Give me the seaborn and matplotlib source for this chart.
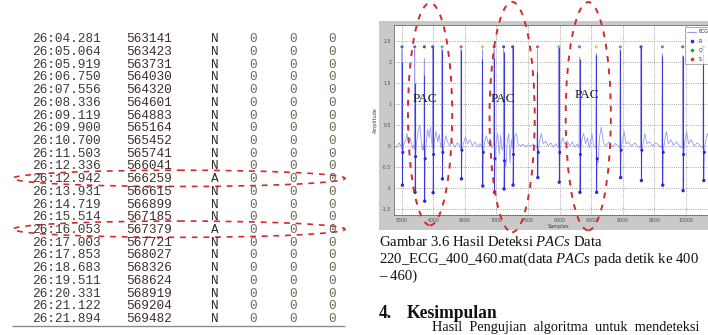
import matplotlib
matplotlib.use("Agg")
import numpy as np
import pandas as pd
import matplotlib.pyplot as plt
import seaborn as sns
from matplotlib.patches import Ellipse, Rectangle
from matplotlib.lines import Line2D

# ---------------- data: annotation table (left) ----------------
times = ["26:04.281", "26:05.064", "26:05.919", "26:06.750", "26:07.556", "26:08.336",
         "26:09.119", "26:09.900", "26:10.700", "26:11.503", "26:12.336", "26:12.942",
         "26:13.931", "26:14.719", "26:15.514", "26:16.053", "26:17.003", "26:17.853",
         "26:18.683", "26:19.511", "26:20.331", "26:21.122", "26:21.894"]
sample_no = [563141, 563423, 563731, 564030, 564320, 564601, 564883, 565164, 565452,
             565741, 566041, 566259, 566615, 566899, 567185, 567379, 567721, 568027,
             568326, 568624, 568919, 569204, 569482]
beat_type = ["N", "N", "N", "N", "N", "N", "N", "N", "N", "N", "N", "A",
             "N", "N", "N", "A", "N", "N", "N", "N", "N", "N", "N"]
sub_col = [0, 0, 0, 0, 0, 0, 0, 0, 0, 0, 0, 0, 0, 0, 0, 0, 0, 0, 0, 0, 0, 0, 0]
chan_col = [0, 0, 0, 0, 0, 0, 0, 0, 0, 0, 0, 0, 0, 0, 0, 0, 0, 0, 0, 0, 0, 0, 0]
num_col = [0, 0, 0, 0, 0, 0, 0, 0, 0, 0, 0, 0, 0, 0, 0, 0, 0, 0, 0, 0, 0, 0, 0]

# ---------------- data: ECG trace (right) ----------------
ecg_sample = [5380, 5420, 5460, 5485, 5497, 5505, 5511, 5518, 5530, 5560, 5585, 5610, 5640, 5670, 5690,
              5699, 5706, 5712, 5720, 5735, 5760, 5785, 5805, 5825, 5845,
              5852, 5858, 5864, 5872, 5890, 5910, 5935, 5955, 5975, 5985,
              5991, 5997, 6005, 6020, 6045, 6070, 6095, 6115, 6132,
              6139, 6145, 6152, 6170, 6200, 6225, 6260, 6300, 6340, 6380, 6420, 6433,
              6440, 6446, 6453, 6475, 6510, 6545, 6580, 6620, 6660, 6700, 6740, 6770,
              6778, 6784, 6792, 6810, 6840, 6870, 6900, 6930, 6955,
              6963, 6969, 6977, 6995, 7020, 7045, 7065, 7090, 7107,
              7114, 7120, 7128, 7150, 7170, 7195, 7215, 7235, 7250,
              7256, 7262, 7270, 7290, 7315, 7340, 7380, 7420, 7460, 7500, 7540, 7580, 7620, 7642,
              7649, 7655, 7662, 7680, 7710, 7740, 7780, 7820, 7860, 7900, 7940, 7980,
              7988, 7994, 8002, 8020, 8050, 8080, 8120, 8160, 8200, 8240, 8280, 8308,
              8315, 8321, 8329, 8350, 8380, 8410, 8440, 8470, 8510, 8540, 8572,
              8580, 8586, 8594, 8610, 8630, 8660, 8690, 8730, 8780, 8830, 8880, 8930, 8953,
              8960, 8966, 8973, 8990, 9020, 9050, 9090, 9140, 9190, 9240, 9280,
              9288, 9294, 9301, 9320, 9350, 9380, 9420, 9470, 9520, 9570, 9618,
              9626, 9632, 9640, 9660, 9690, 9720, 9760, 9800, 9850, 9900, 9940,
              9948, 9954, 9962, 9980, 10010, 10040, 10080, 10130, 10180, 10230, 10268,
              10276, 10282, 10290, 10310, 10340, 10380, 10450, 10500, 10600]
ecg_amp = [0.02, -0.03, 0.08, 0.00, -0.06, 2.30, -0.93, -0.15, 0.05, 0.12, 0.30, 0.05, 0.18, -0.05, 0.02,
           -0.08, 2.30, -1.10, -0.25, 0.10, 0.35, 0.50, 0.20, -0.10, 0.05,
           -0.10, 2.08, -1.31, -0.30, 0.10, 0.40, 0.20, 0.45, 0.10, -0.05,
           2.36, -1.11, -0.20, 0.15, 0.35, 0.10, 0.28, 0.00, -0.05,
           2.30, -0.78, -0.15, 0.05, 0.25, 0.10, 0.00, 0.12, -0.03, 0.08, 0.00, -0.06,
           2.30, -0.78, -0.10, 0.05, 0.22, 0.05, 0.15, 0.00, 0.10, -0.02, 0.06, -0.05,
           2.30, -0.95, -0.15, 0.08, 0.25, 0.05, 0.18, -0.05, 0.02,
           2.30, -1.10, -0.30, 0.10, 0.30, -0.20, 0.25, -0.10, 0.00,
           2.30, -1.02, -0.35, -0.50, 0.10, 0.30, -0.40, 0.15, -0.05,
           2.36, -0.93, -0.20, 0.25, 0.30, 0.05, 0.00, 0.05, -0.02, 0.03, 0.00, 0.05, 0.00, -0.05,
           2.30, -0.75, -0.15, 0.10, 0.30, 0.05, 0.12, 0.00, 0.08, -0.03, 0.06, -0.04,
           2.36, -0.86, -0.15, 0.05, 0.20, 0.05, 0.12, 0.00, 0.10, -0.03, 0.05, -0.05,
           2.12, -1.10, -0.20, 0.15, 0.30, 0.05, 0.20, -0.05, 0.30, 0.00, -0.05,
           2.20, -1.10, -0.30, -0.40, 0.20, 0.45, 0.10, 0.00, 0.10, -0.02, 0.06, 0.00, -0.05,
           2.30, -0.75, -0.10, 0.10, 0.35, 0.05, 0.10, 0.00, 0.08, -0.02, -0.05,
           2.36, -0.82, -0.10, 0.05, 0.30, 0.05, 0.10, 0.00, 0.08, 0.02, -0.05,
           2.20, -0.93, -0.15, 0.10, 0.35, 0.05, 0.15, 0.02, 0.10, 0.00, -0.05,
           2.15, -1.06, -0.20, 0.10, 0.35, 0.05, 0.15, 0.00, 0.08, 0.00, -0.05,
           2.36, -0.82, -0.15, 0.10, 0.30, 0.05, 0.10, 0.00, 0.05]

# detected beats
beat_sample = [5505, 5706, 5858, 5991, 6139, 6440, 6778, 6963, 7114, 7256,
               7649, 7988, 8315, 8580, 8960, 9288, 9626, 9948, 10276]
dark_top = [2.00, 1.50, 1.68, 2.36, 2.28, 2.28, 2.08, 2.10, 2.24, 2.36,
            1.76, 2.36, 2.08, 2.16, 2.28, 2.36, 2.15, 2.15, 2.20]
s_bottom = [-0.93, -1.10, -1.31, -1.11, -0.78, -0.78, -0.95, -1.10, -1.02, -0.93,
            -0.75, -0.86, -1.10, -1.10, -0.75, -0.82, -0.93, -1.06, -0.82]
mark_level = [2.36, 2.36, 2.36, 2.36, 2.36, 2.36, 2.36, 2.36, 2.36, 2.36,
              2.36, 2.36, 2.36, 2.36, 2.36, 2.36, 2.36, 2.36, 2.36]
mark_color = ["#5a5a88", "#5a6ad8", "#55557a", "#4050c8", "#40c0c0", "#e0508a", "#d0d050",
              "#5060d8", "#4a4ab8", "#505080", "#e0508a", "#40c8c8", "#b060d0", "#c8d840",
              "#909090", "#3a4ad0", "#40b060", "#e04848", "#5060d8"]

x_ticks = [5500, 6000, 6500, 7000, 7500, 8000, 8500, 9000, 9500, 10000]
y_ticks = [-1.5, -1, -0.5, 0, 0.5, 1, 1.5, 2, 2.5]

# annotation positions (PAC ellipses / labels, in data units)
pac_x = [5949, 7248, 8453]
pac_y = [0.76, 0.69, 0.71]
pac_w = [700, 715, 715]
pac_h = [5.29, 5.48, 5.43]
pac_lab_x = [5869, 7106, 8437]
pac_lab_y = [1.12, 1.12, 1.21]

# ---------------- figure ----------------
sns.set_style("white")
plt.rcParams["font.family"] = ["DejaVu Sans"]
plt.rcParams["mathtext.fontset"] = "custom"
plt.rcParams["mathtext.rm"] = "Liberation Serif"
plt.rcParams["mathtext.it"] = "Liberation Serif:italic"

W, H = 708, 335
fig = plt.figure(figsize=(W / 100, H / 100), dpi=100)
fig.patch.set_facecolor("white")

def fx(px):
    return px / W

def fy(py):
    return 1 - py / H

# gray MATLAB figure panel
fig.add_artist(Rectangle((fx(379), fy(230)), 1.0, (230 - 21) / H, transform=fig.transFigure,
                         facecolor="#c9c9c9", edgecolor="none", zorder=0))

# ---- ECG axes ----
ax = fig.add_axes([fx(394), fy(215), (722 - 394) / W, (215 - 25) / H])
ax.set_facecolor("white")
ecg_df = pd.DataFrame({"Samples": ecg_sample, "Amplitude": ecg_amp})
sns.lineplot(data=ecg_df, x="Samples", y="Amplitude", ax=ax, estimator=None, sort=False,
             color="#9a9af2", lw=0.6, zorder=3)
ax.vlines(beat_sample, s_bottom, dark_top, color="#3b3bd6", lw=0.8, zorder=4)

# trough markers and near-baseline markers
sns.scatterplot(x=[b + 6 for b in beat_sample], y=s_bottom, ax=ax, color="#2a2ad0",
                s=6, edgecolor="none", zorder=5)
q_x, q_y = [], []
for b in beat_sample:
    i = ecg_sample.index(b)
    q_x.append(ecg_sample[i + 2])
    q_y.append(ecg_amp[i + 2])
sns.scatterplot(x=q_x, y=q_y, ax=ax, color="#2a2ad0", s=5, edgecolor="none", zorder=5)
sns.scatterplot(x=beat_sample, y=mark_level, ax=ax, c=mark_color, s=5, edgecolor="none",
                zorder=6)

ax.set_xlim(5378, 10570)
ax.set_ylim(-1.64, 2.88)
ax.set_xticks(x_ticks)
ax.set_yticks(y_ticks)
ax.set_xticklabels([str(t) for t in x_ticks])
ax.set_yticklabels([f"{t:g}" for t in y_ticks])
ax.tick_params(labelsize=3.4, colors="#505050", direction="in", length=2, width=0.4, pad=2)
ax.grid(True, linestyle=(0, (1, 1.6)), color="#8a8a8a", lw=0.6)
for sp in ax.spines.values():
    sp.set_color("#6a6a6a")
    sp.set_linewidth(0.6)
ax.set_xlabel("Samples", fontsize=3.6, color="#404040", labelpad=1)
ax.set_ylabel("Amplitude", fontsize=3.6, color="#404040", labelpad=3)

handles = [Line2D([], [], color="#9a9af2", lw=0.8, label="ECG"),
           Line2D([], [], color="#2a2ad0", marker="o", ms=1.6, ls="none", label="R"),
           Line2D([], [], color="#30a040", marker="o", ms=1.6, ls="none", label="Q"),
           Line2D([], [], color="#e03030", marker="o", ms=1.6, ls="none", label="S")]
leg = ax.legend(handles=handles, loc="upper left", bbox_to_anchor=(0.886, 0.99),
                fontsize=3.4, frameon=True, fancybox=False, handlelength=2.0,
                handletextpad=0.5, borderpad=0.5, borderaxespad=0.0, labelspacing=0.9,
                edgecolor="#707070")
leg.get_frame().set_linewidth(0.5)
leg.set_zorder(10)

# PAC ellipses and labels
for cx, cy, w, h in zip(pac_x, pac_y, pac_w, pac_h):
    ax.add_patch(Ellipse((cx, cy), w, h, fill=False, ec="#d42a2a", lw=1.4,
                         ls=(0, (3, 3.4)), clip_on=False, zorder=12))
for lx, ly in zip(pac_lab_x, pac_lab_y):
    ax.text(lx, ly, "PAC", ha="center", va="center", fontsize=9.5,
            family="Liberation Serif", color="#1a1a1a", zorder=11)

# ---- table axes (left) ----
tax = fig.add_axes([0, 0, 354 / W, 1])
tax.set_xlim(0, 354)
row0_py, row_step = 39.3, 12.71
tax.set_ylim((H - row0_py) / row_step, -row0_py / row_step)
tax.axis("off")
mono = dict(family="Liberation Mono", size=9.2, va="center")
for i in range(len(times)):
    tax.text(32, i, times[i], ha="left", color="#3a3a3a", **mono)
    tax.text(126, i, str(sample_no[i]), ha="left", color="#3e2c2c", **mono)
    tax.text(215, i, beat_type[i], ha="center", color="#2e2e2e", **mono)
    tax.text(253, i, str(sub_col[i]), ha="center", color="#6e6a58", **mono)
    tax.text(293, i, str(chan_col[i]), ha="center", color="#6e6a58", **mono)
    tax.text(332, i, str(num_col[i]), ha="center", color="#6e6a58", **mono)
tax.hlines((325.7 - row0_py) / row_step, 12, 345, color="#8a8a8a", lw=1.0)
for i, t in enumerate(beat_type):
    if t == "A":
        tax.add_patch(Ellipse((179, i - 0.06), 332, 1.28, fill=False, ec="#d42a2a",
                              lw=1.2, ls=(0, (3.5, 3.5)), clip_on=False))

# ---- caption text ----
serif = "Liberation Serif"
cap1 = fig.text(fx(379), fy(246), r"Gambar 3.6 Hasil Deteksi $\mathit{PACs}$ Data",
                family=serif, fontsize=12, va="baseline", color="#111111")
cap2 = fig.text(fx(379), fy(263), r"220_ECG_400_460.mat(data $\mathit{PACs}$ pada detik ke 400",
                family=serif, fontsize=12, va="baseline", color="#111111")
cap3 = fig.text(fx(379), fy(280), "\u2013 460)", family=serif, fontsize=12,
                va="baseline", color="#111111")
head1 = fig.text(fx(379), fy(318), "4.", family=serif, fontsize=14, weight="bold",
                 va="baseline", color="#111111")
head2 = fig.text(fx(407), fy(318), "Kesimpulan", family=serif, fontsize=14, weight="bold",
                 va="baseline", color="#111111")
body = fig.text(fx(432), fy(331.5), "Hasil  Pengujian  algoritma  untuk  mendeteksi",
                family=serif, fontsize=12, va="baseline", color="#111111")

fig.canvas.draw()
rend = fig.canvas.get_renderer()
scale = 318 / cap2.get_window_extent(rend).width
for t in (cap1, cap2, cap3):
    t.set_fontsize(12 * scale)
bscale = 268 / body.get_window_extent(rend).width
body.set_fontsize(12 * bscale)
hscale = 91 / head2.get_window_extent(rend).width
for t in (head1, head2):
    t.set_fontsize(14 * hscale)

fig.savefig("out.png", dpi=100)
